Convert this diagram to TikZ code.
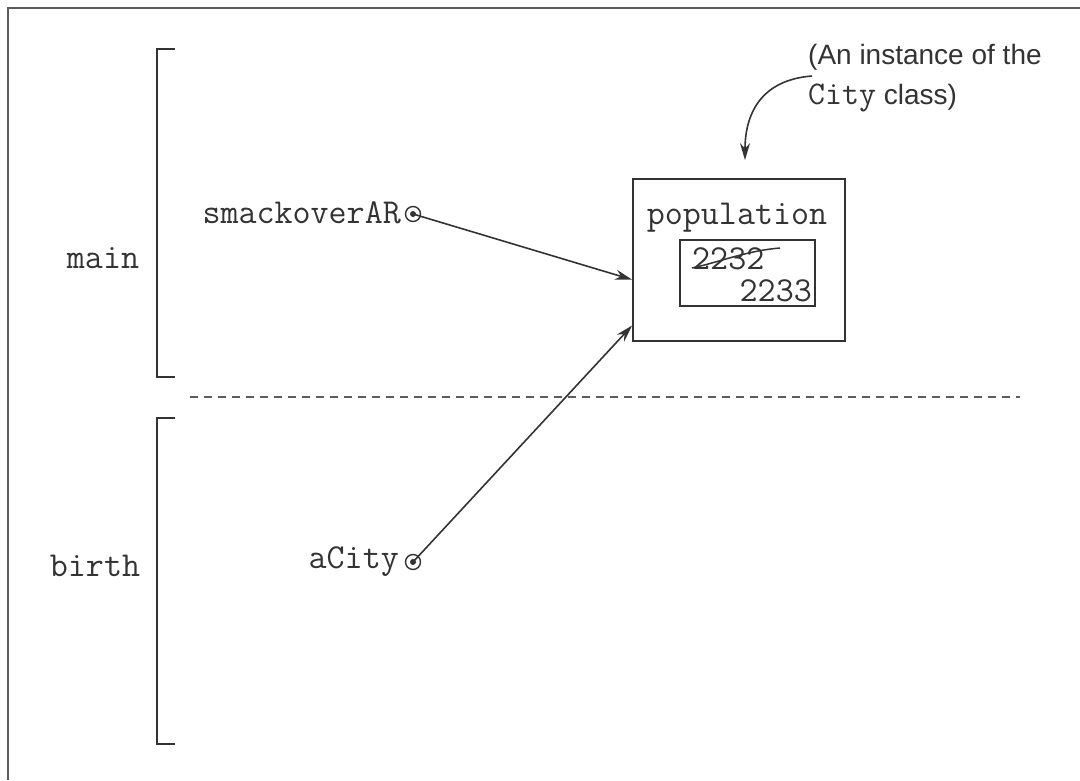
\documentclass[tikz,border=0pt]{standalone}
\usepackage{fontspec}
\newfontfamily\labelfont{Liberation Sans}
\usetikzlibrary{arrows.meta,calc}
\definecolor{ink}{HTML}{333333}
\tikzset{
  mono/.style={font=\fontsize{35}{40}\selectfont\ttfamily, text=ink, inner sep=0pt},
  frameline/.style={draw=ink!80, line width=1.5pt},
  bracket/.style={draw=ink, line width=1.8pt},
  ptr/.style={circle, draw=ink, line width=1.4pt, minimum size=15pt, inner sep=0pt,
    path picture={\fill[ink] (path picture bounding box.center) circle (3pt);}},
  link/.style={draw=ink, line width=1.6pt, -{Stealth[length=17pt,width=10pt]}},
  box/.style={draw=ink, line width=1.8pt, inner sep=0pt},
}
\begin{document}
\begin{tikzpicture}[x=1pt,y=-1pt]
\useasboundingbox (0,0) rectangle (1080,780);
% frame (top and left visible)
\draw[frameline] (1080,8) -- (8,8) -- (8,780);
% brackets
\draw[bracket] (175,49) -- (157,49) -- (157,377) -- (175,377);
\draw[bracket] (175,418) -- (157,418) -- (157,744) -- (175,744);
\draw[draw=ink!80, line width=1.5pt, dash pattern=on 8pt off 6pt] (190,397) -- (1020,397);
% frame labels
\node[mono] (main) at (103,258) {main};
\node[mono] (birth) at (95,566) {birth};
% variables
\node[mono, anchor=east] (smack) at (401,213) {smackoverAR};
\node[ptr] (p1) at (413,214) {};
\node[mono, anchor=east] (acity) at (399,562) {aCity};
\node[ptr] (p2) at (413,562) {};
% object
\node[box, minimum width=212pt, minimum height=162pt] (obj) at (739,260) {};
\node[mono] (pop) at (737,218) {population};
\node[box, minimum width=135pt, minimum height=66pt] (val) at (747.5,273) {};
\node[mono, anchor=west] (old) at (692,259) {2232};
\node[mono, anchor=east] (new) at (812,291) {2233};
\draw[ink, line width=1.5pt] (692,268) .. controls (720,262) and (745,251) .. (780,248);
% connectors
\coordinate (e1) at ($(obj.north west)!0.62!(obj.south west)$);
\coordinate (e2) at ($(obj.north west)!0.90!(obj.south west)$);
\draw[link] (p1.center) -- (e1);
\draw[link] (p2.center) -- (e2);
% annotation
\node[anchor=north west, align=left, inner sep=0pt, text=ink,
      font=\labelfont\fontsize{28}{40}\selectfont] (note) at (808,44)
  {(An instance of the\\{\fontsize{33}{40}\selectfont\ttfamily City} class)};
\coordinate (ns) at (812,76);
\draw[link] (ns) .. controls (760,80) and (745,115) .. ($(obj.north)+(6,-18)$);
\end{tikzpicture}
\end{document}
